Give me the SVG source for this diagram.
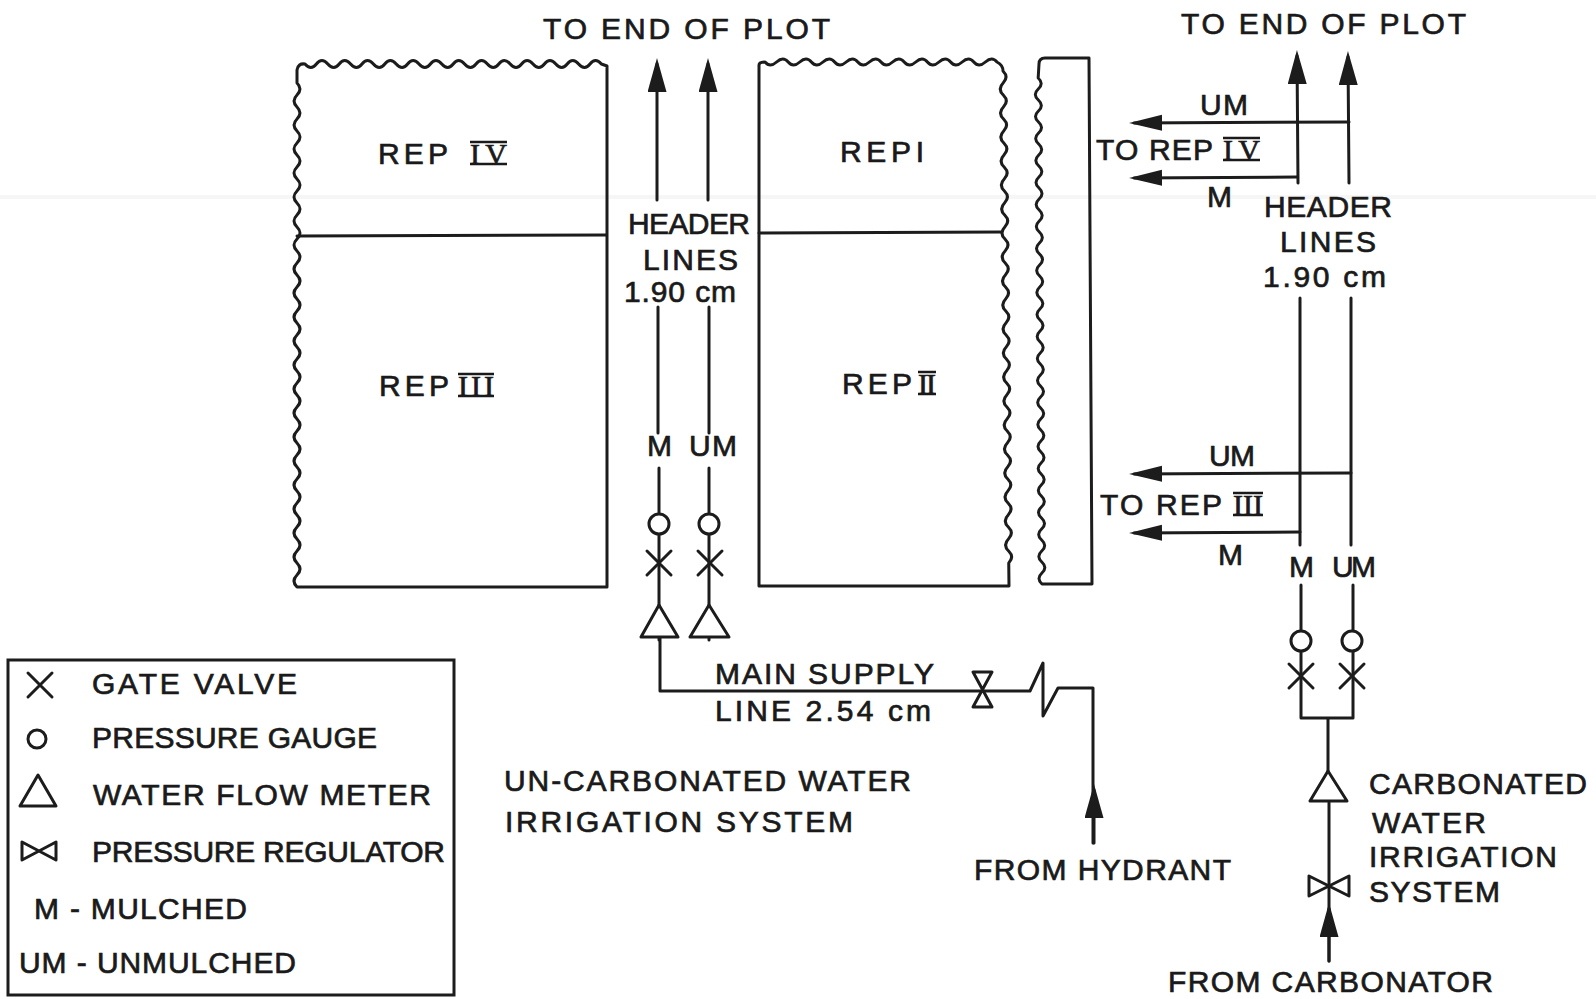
<svg xmlns="http://www.w3.org/2000/svg" width="1596" height="999" viewBox="0 0 1596 999">
<defs>
<marker id="ah" markerUnits="userSpaceOnUse" markerWidth="36" markerHeight="20" refX="28" refY="9.500" orient="auto"><path d="M0 0L34 9.500L0 19z" fill="#1c1c1c"/></marker>
<marker id="ah2" markerUnits="userSpaceOnUse" markerWidth="36" markerHeight="18" refX="28" refY="8" orient="auto"><path d="M0 0L33 8L0 16z" fill="#1c1c1c"/></marker>
<g id="x"><path d="M-12-12L12 12M-12 12L12-12"/></g>
</defs>
<style>
text{font-family:"Liberation Sans",Arial,sans-serif;font-size:30px;fill:#1a1a1a;stroke:#1a1a1a;stroke-width:.7px}
.s{font-family:"Liberation Serif","Times New Roman",serif;font-size:30px}
.b{stroke:#1a1a1a;stroke-width:2.500px;fill:none}
.l,.l path,.l line,.l polyline,.l circle,use{fill:none;stroke:#1c1c1c;stroke-width:3px;stroke-linejoin:round;stroke-linecap:round}
.sym path,.sym circle{fill:#fff;stroke:#1c1c1c;stroke-width:3px;stroke-linejoin:round}
</style>
<rect width="1596" height="999" fill="#fff"/>
<rect y="195" width="1596" height="4" fill="#f6f6f6"/>

<g id="rep-blocks" class="l">
<g id="block-left"><path d="M297 587L297 587q-6-6 0-12t0-12 0-12 0-12 0-12 0-12 0-12 0-12 0-12 0-12 0-12 0-12 0-12 0-12 0-12 0-12 0-12 0-12 0-12 0-12 0-12 0-12 0-12 0-12 0-12 0-12 0-12 0-12 0-12 0-12 0-12 0-12 0-12 0-12 0-12 0-12 0-12 0-12 0-12 0-12 0-12 0-12L297 70Q298 63 305 64q6 7 11.400 0t11.400 0 11.400 0 11.400 0 11.400 0 11.400 0 11.400 0 11.400 0 11.400 0 11.400 0 11.400 0 11.400 0 11.400 0 11.400 0 11.400 0 11.400 0 11.400 0 11.400 0 11.400 0 11.400 0 11.400 0 11.400 0 11.400 0 11.400 0 11.400 0 11.400 0L607 66L607 587Z"/>
<line x1="297" y1="236" x2="606" y2="235"/></g>
<g id="block-right"><path d="M759 586L759 65Q759 62 765 62q5 6 11.600 0t11.600 0 11.600 0 11.600 0 11.600 0 11.600 0 11.600 0 11.600 0 11.600 0 11.600 0 11.600 0 11.600 0 11.600 0 11.600 0 11.600 0 11.600 0 11.600 0 11.600 0 11.600 0 11.600 0q6 3 6 9q6 6 .14 12t.14 12 .14 12 .14 12 .14 12 .14 12 .14 12 .14 12 .14 12 .14 12 .14 12 .14 12 .14 12 .14 12 .14 12 .14 12 .14 12 .14 12 .14 12 .14 12 .14 12 .14 12 .14 12 .14 12 .14 12 .14 12 .14 12 .14 12 .14 12 .14 12 .14 12 .14 12 .14 12 .14 12 .14 12 .14 12 .14 12 .14 12 .14 12 .14 12 .14 12L1009 586Z"/>
<line x1="759" y1="233" x2="1001" y2="232"/></g>
<g id="strip"><path d="M1042 584q-6-5.500-.083-11t-.083-11-.083-11-.083-11-.083-11-.083-11-.083-11-.083-11-.083-11-.083-11-.083-11-.083-11-.083-11-.083-11-.083-11-.083-11-.083-11-.083-11-.083-11-.083-11-.083-11-.083-11-.083-11-.083-11-.083-11-.083-11-.083-11-.083-11-.083-11-.083-11-.083-11-.083-11-.083-11-.083-11-.083-11-.083-11-.083-11-.083-11-.083-11-.083-11-.083-11-.083-11-.083-11-.083-11-.083-11-.083-11L1039 64Q1039 58 1045 58L1089 58L1092 584Z"/></g>
</g>

<g id="connectors" class="l">
<line x1="657" y1="200" x2="657" y2="64" marker-end="url(#ah)"/>
<line x1="708" y1="200" x2="708" y2="64" marker-end="url(#ah)"/>
<path d="M658 307V433M709 307V433M659 468V640M709 468V640M660 637V691H1030L1043 663V716L1058 688H1093V843"/>
<line x1="1094" y1="843" x2="1094" y2="790" marker-end="url(#ah)"/>
<line x1="1298" y1="183" x2="1297" y2="56" marker-end="url(#ah)"/>
<line x1="1349" y1="183" x2="1348" y2="57" marker-end="url(#ah)"/>
<line x1="1349" y1="122" x2="1134" y2="123" marker-end="url(#ah2)"/>
<line x1="1297" y1="177" x2="1134" y2="178" marker-end="url(#ah2)"/>
<path d="M1300 298V545M1351 298V545M1301 585V718H1353V585M1328 718V771M1329 801V961"/>
<line x1="1351" y1="473" x2="1134" y2="474" marker-end="url(#ah2)"/>
<line x1="1300" y1="532" x2="1134" y2="533" marker-end="url(#ah2)"/>
<line x1="1329" y1="961" x2="1329" y2="909" marker-end="url(#ah)"/>
</g>

<g id="un-carbonated-instruments">
<g id="um-m-gauge" class="sym"><circle cx="659" cy="524" r="10"/></g>
<g id="um-um-gauge" class="sym"><circle cx="709" cy="524" r="10"/></g>
<g id="uc-m-valve"><use href="#x" x="659" y="563"/></g>
<g id="uc-um-valve"><use href="#x" x="710" y="563"/></g>
<g id="uc-m-meter" class="sym"><path d="M659 605L678 637H641Z"/></g>
<g id="uc-um-meter" class="sym"><path d="M709 605L729 637H690Z"/></g>
<g id="uc-regulator" class="sym"><path d="M973 672H992L973 707H992Z"/></g>
</g>
<g id="carbonated-instruments">
<g id="c-m-gauge" class="sym"><circle cx="1301" cy="641" r="10"/></g>
<g id="c-um-gauge" class="sym"><circle cx="1352" cy="641" r="10"/></g>
<g id="c-m-valve"><use href="#x" x="1301" y="676"/></g>
<g id="c-um-valve"><use href="#x" x="1352" y="676"/></g>
<g id="c-meter" class="sym"><path d="M1328 771L1347 801H1310Z"/></g>
<g id="c-regulator" class="sym"><path d="M1309 876V896L1349 876V896Z"/></g>
</g>

<g id="legend">
<rect x="8" y="660" width="446" height="335" fill="none" stroke="#1c1c1c" stroke-width="3"/>
<use href="#x" x="40" y="685"/>
<g class="sym"><circle cx="37" cy="739" r="9"/><path d="M38 775L56 806H20Z"/><path d="M22 842V860L56 842V860Z"/></g>
<text x="92" y="694" textLength="205">GATE VALVE</text>
<text x="92" y="748" textLength="285">PRESSURE GAUGE</text>
<text x="93" y="805" textLength="338">WATER FLOW METER</text>
<text x="92" y="862" textLength="353">PRESSURE REGULATOR</text>
<text x="34" y="919" textLength="213">M - MULCHED</text>
<text x="19" y="973" textLength="277">UM - UNMULCHED</text>
</g>

<g id="labels" transform="translate(0,-1)">
<text x="543" y="40" textLength="287">TO END OF PLOT</text>
<text x="1181" y="35" textLength="285">TO END OF PLOT</text>
<g id="rep-iv"><text x="378" y="165" textLength="70">REP</text><text class="s" x="470" y="165" textLength="37">IV</text><path class="b" d="M470 143H507M470 165H507"/></g>
<g id="rep-iii"><text x="379" y="397" textLength="70">REP</text><text class="s" x="458" y="397" textLength="36">III</text><path class="b" d="M458 375H494M458 397H494"/></g>
<g id="rep-i"><text x="840" y="163" textLength="84">REPI</text></g>
<g id="rep-ii"><text x="842" y="395" textLength="70">REP</text><text class="s" x="918" y="395" textLength="18">II</text><path class="b" d="M918 373H936M918 395H936"/></g>
<text x="628" y="235" textLength="122">HEADER</text>
<text x="643" y="271" textLength="95">LINES</text>
<text x="624" y="303" textLength="112">1.90 cm</text>
<text x="1264" y="218" textLength="128">HEADER</text>
<text x="1280" y="253" textLength="96">LINES</text>
<text x="1263" y="288" textLength="123">1.90 cm</text>
<text x="647" y="457">M</text>
<text x="689" y="457" textLength="48">UM</text>
<text x="1200" y="116" textLength="48">UM</text>
<text x="1096" y="161" textLength="117">TO REP</text><text class="s" x="1223" y="161" textLength="37">IV</text><path class="b" d="M1223 139H1260M1223 161H1260"/>
<text x="1207" y="208">M</text>
<text x="1209" y="467" textLength="46">UM</text>
<text x="1100" y="516" textLength="122">TO REP</text><text class="s" x="1233" y="516" textLength="30">III</text><path class="b" d="M1233 494H1263M1233 516H1263"/>
<text x="1218" y="566">M</text>
<text x="1289" y="578">M</text>
<text x="1332" y="578" textLength="44">UM</text>
<text x="715" y="685" textLength="219">MAIN SUPPLY</text>
<text x="715" y="722" textLength="216">LINE 2.54 cm</text>
<text x="504" y="792" textLength="407">UN-CARBONATED WATER</text>
<text x="505" y="833" textLength="348">IRRIGATION SYSTEM</text>
<text x="974" y="881" textLength="257">FROM HYDRANT</text>
<text x="1369" y="795" textLength="218">CARBONATED</text>
<text x="1372" y="834" textLength="114">WATER</text>
<text x="1369" y="868" textLength="188">IRRIGATION</text>
<text x="1369" y="903" textLength="131">SYSTEM</text>
<text x="1168" y="993" textLength="325">FROM CARBONATOR</text>
</g>
</svg>
